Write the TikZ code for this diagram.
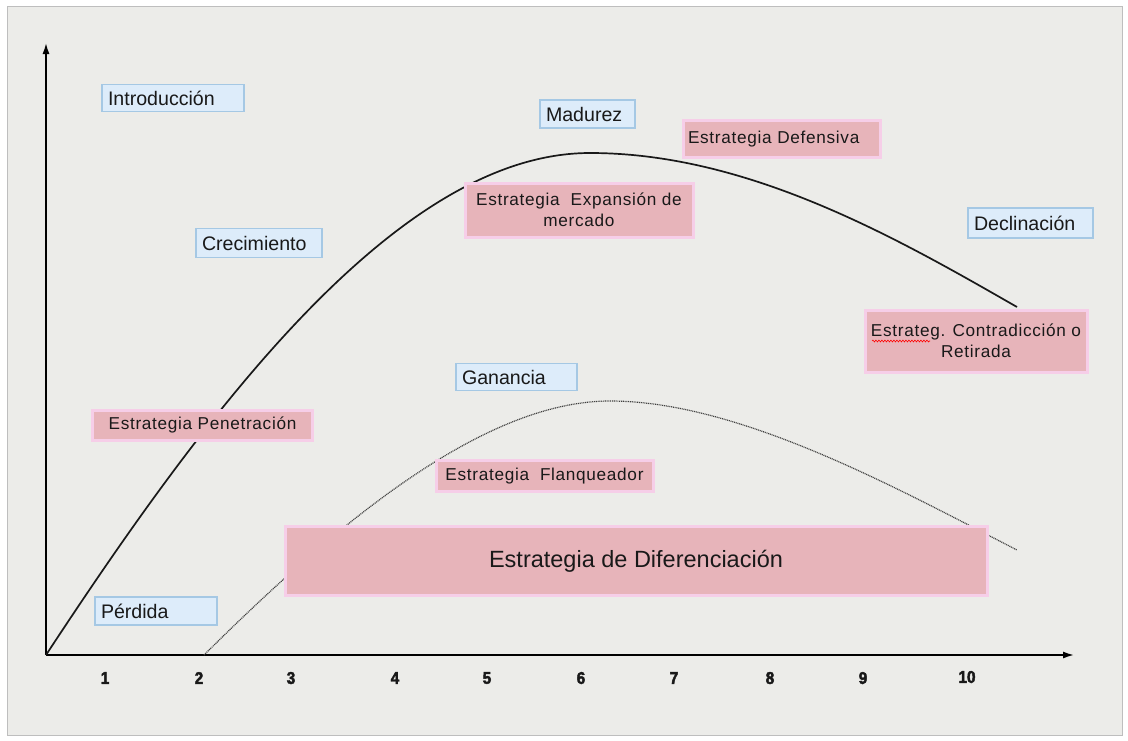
\documentclass[tikz,border=0pt]{standalone}
\usepackage{fontspec}
\setmainfont{Liberation Sans}
\newfontfamily\spacedfont[LetterSpace=4]{Liberation Sans}
\newfontfamily\numfont[FakeStretch=0.9,FakeBold=2.5]{Liberation Sans}
\usetikzlibrary{arrows.meta,decorations.pathmorphing}
\definecolor{bgc}{RGB}{236,236,233}
\definecolor{framec}{RGB}{190,190,190}
\definecolor{bluefill}{RGB}{221,236,250}
\definecolor{blueline}{RGB}{165,200,228}
\definecolor{pinkfill}{RGB}{231,180,186}
\definecolor{pinkline}{RGB}{246,206,232}
\definecolor{curvec}{RGB}{25,25,25}
\begin{document}
\begin{tikzpicture}[x=1pt,y=-1pt,
  bluebox/.style={draw=blueline, line width=1.2pt, fill=bluefill, inner xsep=6pt, inner ysep=0pt,
    minimum height=27pt, align=left, font=\fontsize{19.6}{22}\selectfont, text=black!90},
  pinkbox/.style={draw=pinkline, line width=3pt, fill=pinkfill, inner xsep=5pt, inner ysep=0pt,
    font=\spacedfont\fontsize{17.2}{21}\selectfont, text=black!90},
  axis/.style={line width=1.6pt, -{Latex[length=11pt,width=7pt]}},
  num/.style={font=\numfont\bfseries\fontsize{17}{19}\selectfont, text=black!90},
  maincurve/.style={line width=1.7pt, draw=curvec},
  dotcurve/.style={line width=1.2pt, draw=black!75, dash pattern=on 1pt off 0.8pt}
]
\useasboundingbox (0,0) rectangle (1128,740);
\fill[white] (0,0) rectangle (1128,740);
\draw[fill=bgc, draw=framec, line width=1pt] (7,6) rectangle (1122,735);

% axes
\coordinate (O) at (46,655);
\coordinate (ytip) at (46,43);
\coordinate (xtip) at (1074,655);
\draw[axis] (O) -- (ytip);
\draw[axis] (O) -- (xtip);

% axis numbers
\node[num] (n1) at (105,678) {1};
\node[num] (n2) at (199,678) {2};
\node[num] (n3) at (291,678) {3};
\node[num] (n4) at (395,678) {4};
\node[num] (n5) at (487,678) {5};
\node[num] (n6) at (581,678) {6};
\node[num] (n7) at (674,678) {7};
\node[num] (n8) at (770,678) {8};
\node[num] (n9) at (863,678) {9};
\node[num] (n10) at (967,677) {10};

% dotted profit curve
\coordinate (g0) at (204,655);
\coordinate (gtop) at (610,401);
\coordinate (gend) at (1017,550);
\draw[dotcurve] (g0) .. controls (330,530) and (480,401) .. (gtop)
  .. controls (740,401) and (900,490) .. (gend);

% main sales curve
\coordinate (vtop) at (590,153);
\coordinate (vend) at (1017,307);
\draw[maincurve] (O) .. controls (210,405) and (400,153) .. (vtop)
  .. controls (750,153) and (900,240) .. (vend);

% strategy boxes
\node[pinkbox, minimum width=702pt, minimum height=69pt, font=\fontsize{23.5}{26}\selectfont] (dif) at (636,561) {Estrategia de Diferenciación};
\node[pinkbox, minimum width=197pt, minimum height=37pt, text width=187pt, align=left] (def) at (781.5,139) {Estrategia Defensiva};
\node[pinkbox, minimum width=228pt, minimum height=54pt, align=center] (exp) at (579,210) {Estrategia~ Expansión de\\mercado};
\node[pinkbox, minimum width=222pt, minimum height=62pt, align=center] (ret) at (976,341) {Estrateg. Contradicción o\\Retirada};
\node[pinkbox, minimum width=220pt, minimum height=30pt] (pen) at (202.5,425) {Estrategia Penetración};
\node[pinkbox, minimum width=217pt, minimum height=31pt] (fla) at (544.5,476) {Estrategia~ Flanqueador};

% stage labels
\node[bluebox, text width=130pt] (intro) at (173,98) {Introducción};
\node[bluebox, text width=114pt, minimum height=29pt] (crec) at (259,243) {Crecimiento};
\node[bluebox, text width=83pt, minimum height=28pt] (mad) at (587.5,114) {Madurez};
\node[bluebox, text width=113pt, minimum height=30pt] (decl) at (1030.5,223) {Declinación};
\node[bluebox, text width=109pt] (gan) at (516.5,377) {Ganancia};
\node[bluebox, text width=110pt, minimum height=28pt] (perd) at (156,611) {Pérdida};

% spelling underline
\coordinate (sqa) at (872,341);
\coordinate (sqb) at (930,341);
\draw[red, line width=0.6pt, decorate, decoration={snake, amplitude=0.9pt, segment length=3pt}] (sqa) -- (sqb);
\end{tikzpicture}
\end{document}
